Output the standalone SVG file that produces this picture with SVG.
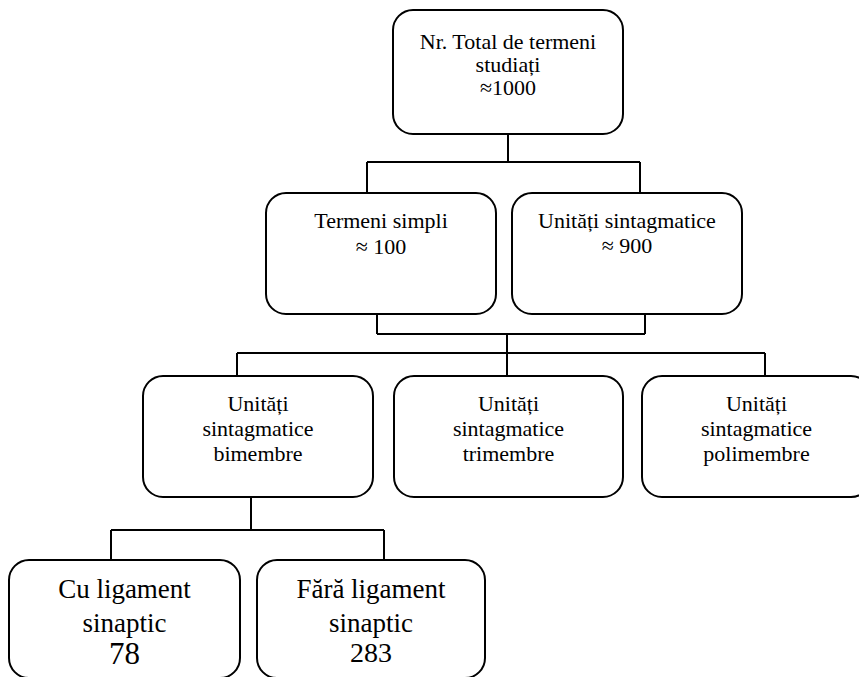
<svg xmlns="http://www.w3.org/2000/svg" width="859" height="677" viewBox="0 0 859 677">
<style>
.box{fill:#fff;stroke:#000;stroke-width:2}
.ln{fill:none;stroke:#000;stroke-width:2}
text{font-family:"Liberation Serif","Times New Roman",serif;fill:#000;text-anchor:middle}
.t21{font-size:22px}
.t27{font-size:27px}
</style>
<rect width="859" height="677" fill="#fff"/>
<g id="connectors" class="ln">
<path d="M508 134V162M367 162H640M367 162V193M640 162V193"/>
<path d="M377 314V334M645 314V334M377 334H645M507 334V376"/>
<path d="M237 353H765M237 353V376M765 353V376"/>
<path d="M251 497V530M111 530H384M111 530V560M384 530V560"/>
</g>
<g id="n_total">
<rect class="box" x="393" y="10" width="230" height="124" rx="20"/>
<text class="t21" x="508" y="49">Nr. Total de termeni</text>
<text class="t21" x="508" y="72">studiați</text>
<text class="t21" x="508" y="95">≈1000</text>
</g>
<g id="n_simpli">
<rect class="box" x="266" y="193" width="230" height="121" rx="20"/>
<text class="t21" x="381" y="228">Termeni simpli</text>
<text class="t21" x="381" y="254">≈ 100</text>
</g>
<g id="n_sintag">
<rect class="box" x="512" y="193" width="230" height="121" rx="20"/>
<text class="t21" x="627" y="228">Unități sintagmatice</text>
<text class="t21" x="627" y="253">≈ 900</text>
</g>
<g id="n_bimembre">
<rect class="box" x="143" y="376" width="230" height="121" rx="20"/>
<text class="t21" x="258" y="411">Unități</text>
<text class="t21" x="258" y="436">sintagmatice</text>
<text class="t21" x="258" y="461">bimembre</text>
</g>
<g id="n_trimembre">
<rect class="box" x="394" y="376" width="229" height="121" rx="20"/>
<text class="t21" x="508.5" y="411">Unități</text>
<text class="t21" x="508.5" y="436">sintagmatice</text>
<text class="t21" x="508.5" y="461">trimembre</text>
</g>
<g id="n_polimembre">
<rect class="box" x="642" y="376" width="229" height="121" rx="20"/>
<text class="t21" x="756.5" y="411">Unități</text>
<text class="t21" x="756.5" y="436">sintagmatice</text>
<text class="t21" x="756.5" y="461">polimembre</text>
</g>
<g id="n_cu">
<rect class="box" x="9" y="560" width="231" height="118" rx="20"/>
<text class="t27" x="124.5" y="598">Cu ligament</text>
<text class="t27" x="124.5" y="632">sinaptic</text>
<text x="124.5" y="664" style="font-size:31px">78</text>
</g>
<g id="n_fara">
<rect class="box" x="257" y="560" width="228" height="118" rx="20"/>
<text class="t27" x="371" y="598">Fără ligament</text>
<text class="t27" x="371" y="632">sinaptic</text>
<text x="371" y="662" style="font-size:28px">283</text>
</g>
</svg>
